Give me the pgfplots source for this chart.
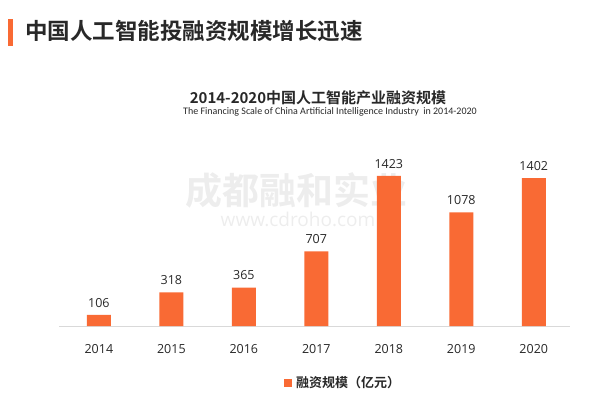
\documentclass[border=0pt]{standalone}
\usepackage{pgfplots}
\pgfplotsset{compat=1.18}
\usepackage{fontspec}
\setmainfont{Open Sans}
\newfontfamily\cjk{Noto Sans CJK SC}
\newfontfamily\cjkb{Noto Sans CJK SC Bold}
\newfontfamily\eng{Carlito}
\definecolor{barorange}{RGB}{249,106,52}
\definecolor{txt}{RGB}{40,40,40}
\begin{document}
\begin{tikzpicture}
\path[use as bounding box] (0pt,0pt) rectangle (591pt,-394pt);
\fill[barorange] (8pt,-19pt) rectangle (13pt,-46pt);
\node[anchor=west, text=txt, inner sep=0pt] at (25pt,-31pt) {\cjkb\fontsize{22.5}{25}\selectfont 中国人工智能投融资规模增长迅速};
\node[text=txt, inner sep=0pt] at (318pt,-98pt) {\cjkb\fontsize{15}{17}\selectfont 2014-2020中国人工智能产业融资规模};
\node[text=txt, inner sep=0pt] at (330pt,-112pt) {\eng\fontsize{10}{11}\selectfont The Financing Scale of China Artificial Intelligence Industry\ \ in 2014-2020};
\node[text=black!7, inner sep=0pt] at (296pt,-190pt) {\cjkb\fontsize{37}{39}\selectfont 成都融和实业};
\node[text=black!7, inner sep=0pt] at (298pt,-219pt) {\fontsize{19}{21}\selectfont www.cdroho.com};
\begin{axis}[
  at={(59pt,-326pt)}, anchor=south west,
  scale only axis, width=511pt, height=168.7pt,
  xmin=-0.55, xmax=6.5, ymin=0, ymax=1600,
  axis y line=none, axis x line*=bottom,
  x axis line style={black!15, -},
  xtick=data,
  xticklabels={2014,2015,2016,2017,2018,2019,2020},
  major tick length=0pt,
  xticklabel style={font=\fontsize{12.5}{14}\selectfont, text=txt, yshift=-15pt},
  ybar, bar width=24pt,
  nodes near coords,
  every node near coord/.append style={font=\fontsize{12.5}{14}\selectfont, text=txt, yshift=4pt, /pgf/number format/1000 sep={}},
  /pgf/number format/1000 sep={},
  /pgf/number format/assume math mode=true,
  clip=false,
]
\addplot[fill=barorange, draw=none] coordinates {(0,106) (1,318) (2,365) (3,707) (4,1423) (5,1078) (6,1402)};
\end{axis}
\fill[barorange] (284pt,-379pt) rectangle (292pt,-387pt);
\node[anchor=west, text=txt, inner sep=0pt] at (296pt,-383pt) {\cjkb\fontsize{13}{15}\selectfont 融资规模（亿元）};
\end{tikzpicture}
\end{document}
